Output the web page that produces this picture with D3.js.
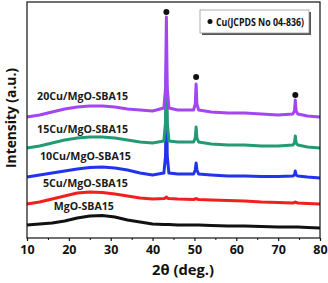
<!DOCTYPE html>
<html>
<head>
<meta charset="utf-8">
<script src="https://cdn.jsdelivr.net/npm/d3@7"></script>
<style>
  body { margin: 0; background: #fff; }
  text { font-family: "Open Sans", "Noto Sans", sans-serif; font-weight: bold; }
</style>
</head>
<body>
<main></main>
<script>
/*** Data ***/

// 2theta sample positions (deg.)
const angles = [10, 13, 16, 19, 22, 25, 28, 31, 34, 37, 40, 42.7, 43.1, 43.3, 43.5, 43.9, 46, 49.8, 50.2, 50.4, 50.6, 51.0, 54, 58, 62, 66, 70, 73.5, 73.9, 74.1, 74.3, 74.7, 77, 80]

// intensities (a.u.)
const mgo = [13, 14, 15, 17, 20, 22, 22.5, 21, 18, 16, 14, 13.5, 13.5, 13.5, 13.5, 13.5, 13, 13, 13, 13, 13, 13, 12.5, 12, 12, 11.5, 11, 11, 11, 11, 11, 11, 10.5, 10]
const cu5 = [34, 36, 39, 42, 45, 46, 45.5, 44, 42, 40, 39, 39.5, 40, 41, 40, 39.5, 39, 38.5, 39, 39.5, 39, 38.5, 38, 37.5, 37, 36, 35.5, 35, 35.5, 36, 35.5, 35, 34.5, 34]
const cu10 = [61, 63, 65, 67, 69, 70.5, 71, 70, 68, 65, 63, 65, 82, 163, 82, 65, 64, 64, 68, 75, 68, 64, 63, 62, 62, 61.5, 61.5, 62, 63, 67, 63, 62, 61, 60]
const cu15 = [90, 92, 95, 98, 100, 101, 101, 100, 98, 96, 95, 97, 116, 178, 116, 97, 96, 96, 100, 111, 100, 96, 94, 93, 93, 92, 92, 93, 95, 102, 95, 93, 91, 90]
const cu20 = [121, 123, 126, 129, 131, 132, 132, 131, 129, 128, 127, 130, 150, 221, 150, 130, 128, 128, 134, 154, 134, 128, 126, 125, 125, 124, 123, 124, 127, 138, 127, 124, 122, 121]

const seriesNames = ["MgO-SBA15", "5Cu/MgO-SBA15", "10Cu/MgO-SBA15", "15Cu/MgO-SBA15", "20Cu/MgO-SBA15"]
const seriesValues = [mgo, cu5, cu10, cu15, cu20]
const seriesColors = ["#111111", "#f0201e", "#2233ee", "#239a74", "#a346f2"]

// where each label sits (angle, intensity, printed width)
const labelAngles = [16.4, 13.8, 13.1, 12.4, 12.4]
const labelLevels = [28, 51, 78, 105, 138]
const labelWidths = [60, 85, 91, 91, 91]

// Cu reflections marked with dots
const cuPeaks = [43.3, 50.4, 74.1]
const cuDots = [226, 161, 143]

const xTicks = [10, 20, 30, 40, 50, 60, 70, 80]
const xMinor = [15, 25, 35, 45, 55, 65, 75]

/*** Layout ***/
const svgWidth = 328
const svgHeight = 283
const padLeft = 27, padRight = 320, padTop = 2, padBottom = 238

let svg = d3.select("main")
    .append("svg")
    .attr("width", svgWidth)
    .attr("height", svgHeight)

let xScale = d3.scaleLinear().domain([10, 80]).range([padLeft, padRight])
let yScale = d3.scaleLinear().domain([0, 236]).range([padBottom, padTop])

// curves
let line = d3.line()
    .x((d, i) => xScale(angles[i]))
    .y(d => yScale(d))

svg.selectAll("path.curve")
    .data(seriesValues)
    .enter()
    .append("path")
    .attr("class", "curve")
    .attr("d", d => line(d))
    .attr("fill", "none")
    .attr("stroke", (d, i) => seriesColors[i])
    .attr("stroke-width", 3)
    .attr("stroke-linejoin", "round")

// frame
svg.append("rect")
    .attr("x", padLeft)
    .attr("y", padTop)
    .attr("width", padRight - padLeft)
    .attr("height", padBottom - padTop)
    .attr("fill", "none")
    .attr("stroke", "#111")
    .attr("stroke-width", 1.2)

// bottom axis
let bottomAxis = d3.axisBottom(xScale)
    .tickValues(xTicks)
    .tickSize(3)
    .tickFormat(d3.format("d"))

let xAxis = svg.append("g")
    .attr("transform", `translate(0, ${padBottom})`)
    .call(bottomAxis)

xAxis.select(".domain").remove()
xAxis.selectAll("line").attr("stroke", "#111").attr("stroke-width", 1.2)
xAxis.selectAll("text")
    .attr("y", 7)
    .attr("dy", "0.71em")
    .style("font-size", "12.5px")
    .attr("fill", "#111")

svg.append("g")
    .attr("transform", `translate(0, ${padBottom})`)
    .call(d3.axisBottom(xScale).tickValues(xMinor).tickSize(2).tickFormat(""))
    .call(g => g.select(".domain").remove())
    .selectAll("line").attr("stroke", "#111")

// axis titles
svg.append("text")
    .attr("x", 183)
    .attr("y", 275)
    .style("text-anchor", "middle")
    .style("font-size", "15px")
    .attr("fill", "#111")
    .attr("textLength", 62)
    .attr("lengthAdjust", "spacingAndGlyphs")
    .text("2θ (deg.)")

svg.append("text")
    .attr("transform", `translate(16, 118) rotate(-90)`)
    .style("text-anchor", "middle")
    .style("font-size", "15px")
    .attr("fill", "#111")
    .attr("textLength", 100)
    .attr("lengthAdjust", "spacingAndGlyphs")
    .text("Intensity (a.u.)")

// sample labels
svg.selectAll("text.label")
    .data(seriesNames)
    .enter()
    .append("text")
    .attr("class", "label")
    .attr("x", (d, i) => xScale(labelAngles[i]))
    .attr("y", (d, i) => yScale(labelLevels[i]))
    .style("font-size", "11px")
    .attr("fill", "#1a1a1a")
    .attr("textLength", (d, i) => labelWidths[i])
    .attr("lengthAdjust", "spacingAndGlyphs")
    .text(d => d)

// Cu dots
svg.selectAll("circle.cu")
    .data(cuPeaks)
    .enter()
    .append("circle")
    .attr("class", "cu")
    .attr("cx", d => xScale(d))
    .attr("cy", (d, i) => yScale(cuDots[i]))
    .attr("r", 3)
    .attr("fill", "#111")

// legend box with shadow
svg.append("rect")
    .attr("x", 202)
    .attr("y", 12)
    .attr("width", 109)
    .attr("height", 23)
    .attr("fill", "#555")
svg.append("rect")
    .attr("x", 200)
    .attr("y", 10)
    .attr("width", 109)
    .attr("height", 23)
    .attr("fill", "#fff")
    .attr("stroke", "#999")
    .attr("stroke-width", 0.8)
svg.append("circle")
    .attr("cx", 210)
    .attr("cy", 21.5)
    .attr("r", 2.5)
    .attr("fill", "#111")
svg.append("text")
    .attr("x", 216)
    .attr("y", 25.5)
    .style("font-size", "11px")
    .attr("fill", "#111")
    .attr("textLength", 88)
    .attr("lengthAdjust", "spacingAndGlyphs")
    .text("Cu(JCPDS No 04-836)")
</script>
</body>
</html>
